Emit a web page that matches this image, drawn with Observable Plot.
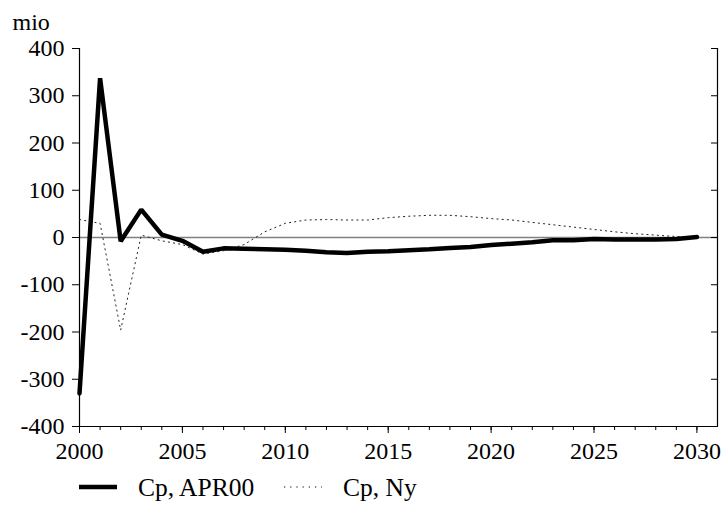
<!DOCTYPE html>
<html>
<head>
<meta charset="utf-8">
<script src="https://cdn.jsdelivr.net/npm/d3@7"></script>
<script src="https://cdn.jsdelivr.net/npm/@observablehq/plot@0.6"></script>
<style>
  html, body { margin: 0; padding: 0; background: white; }
  #wrap { width: 723px; height: 505px; position: relative; font-family: "Liberation Serif", "DejaVu Serif", serif; }
  #legend { position: relative; height: 35px; width: 723px; font-size: 25.5px; color: black; }
  .sw { position: absolute; top: 9px; }
  .lt { position: absolute; top: 0px; line-height: 35px; white-space: nowrap; }
</style>
</head>
<body>
<div id="wrap">
  <div id="chart"></div>
  <div id="legend"></div>
</div>
<script>
const years = [2000, 2001, 2002, 2003, 2004, 2005, 2006, 2007, 2008, 2009,
               2010, 2011, 2012, 2013, 2014, 2015, 2016, 2017, 2018, 2019,
               2020, 2021, 2022, 2023, 2024, 2025, 2026, 2027, 2028, 2029, 2030];
const cpAPR00 = [-330, 337, -8, 59, 6, -7, -30, -23, -24, -25,
                 -26, -28, -31, -33, -30, -29, -27, -25, -22, -20,
                 -16, -13, -10, -6, -6, -3, -4, -4, -4, -3, 1];
const cpNy = [38, 30, -196, 5, -7, -15, -35, -28, -15, 12,
              30, 37, 38, 37, 37, 42, 45, 47, 47, 44,
              40, 37, 32, 27, 22, 17, 12, 8, 5, 2, 0];
const seriesNames = ["Cp, APR00", "Cp, Ny"];
const yTicks = [-400, -300, -200, -100, 0, 100, 200, 300, 400];
const xMajorTicks = [2000, 2005, 2010, 2015, 2020, 2025, 2030];
const xMinorTicks = years;
const unitLabel = "mio";

const FONT = '"Liberation Serif", "DejaVu Serif", serif';

const data = years.map((yr, i) => ({year: yr, apr00: cpAPR00[i], ny: cpNy[i]}));

const chart = Plot.plot({
  width: 723,
  height: 470,
  marginTop: 48,
  marginBottom: 44,
  marginLeft: 79,
  marginRight: 6,
  style: {fontFamily: FONT, fontSize: "24px", background: "white", color: "black"},
  x: {domain: [2000, 2031]},
  y: {domain: [-400, 400]},
  marks: [
    Plot.ruleY([0], {stroke: "#808080", strokeWidth: 1.5}),
    Plot.ruleX([2000, 2031], {stroke: "black", strokeWidth: 1.2}),
    Plot.ruleY([-400], {stroke: "black", strokeWidth: 1.2}),
    Plot.axisY({anchor: "left", ticks: yTicks, tickSize: 7, tickPadding: 8, tickFormat: d => String(d), label: null, fontFamily: FONT}),
    Plot.axisY({anchor: "right", ticks: yTicks, tickSize: -7, fill: "none", label: null}),
    Plot.axisX({anchor: "bottom", ticks: xMinorTicks, tickSize: 4, fill: "none", label: null}),
    Plot.axisX({anchor: "bottom", ticks: xMajorTicks, tickSize: 7, tickPadding: 8, tickFormat: d => String(d), label: null, fontFamily: FONT}),
    Plot.line(data, {x: "year", y: "ny", stroke: "#222", strokeWidth: 1, strokeDasharray: "1.2,4"}),
    Plot.line(data, {x: "year", y: "apr00", stroke: "black", strokeWidth: 4.5, strokeLinejoin: "miter"}),
    Plot.text([unitLabel], {frameAnchor: "top-left", dx: -67, dy: -19, textAnchor: "start", lineAnchor: "bottom", fontSize: 24, fontFamily: FONT, fill: "black"})
  ]
});
document.getElementById("chart").appendChild(chart);

// Legend
const legend = document.getElementById("legend");
const items = [
  {name: seriesNames[0], swLeft: 79, txtLeft: 138, width: 4.5, dash: null},
  {name: seriesNames[1], swLeft: 284, txtLeft: 343, width: 1, dash: "1.2,5"}
];
for (const it of items) {
  const sw = document.createElementNS("http://www.w3.org/2000/svg", "svg");
  sw.setAttribute("width", 38);
  sw.setAttribute("height", 16);
  sw.setAttribute("class", "sw");
  sw.style.left = it.swLeft + "px";
  const ln = document.createElementNS("http://www.w3.org/2000/svg", "line");
  ln.setAttribute("x1", 0); ln.setAttribute("x2", 38);
  ln.setAttribute("y1", 8); ln.setAttribute("y2", 8);
  ln.setAttribute("stroke", "black");
  ln.setAttribute("stroke-width", it.width);
  if (it.dash) ln.setAttribute("stroke-dasharray", it.dash);
  sw.appendChild(ln);
  legend.appendChild(sw);
  const t = document.createElement("div");
  t.className = "lt";
  t.style.left = it.txtLeft + "px";
  t.textContent = it.name;
  legend.appendChild(t);
}
</script>
</body>
</html>
